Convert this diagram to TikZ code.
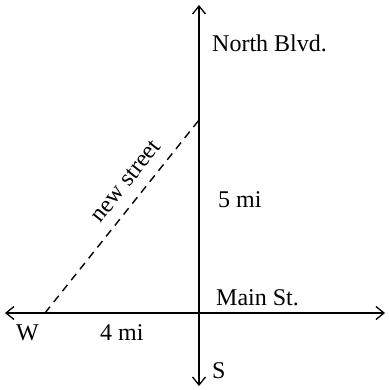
\documentclass[tikz,border=0pt]{standalone}
\usepackage{fontspec}
\setmainfont{Liberation Serif}
\usetikzlibrary{arrows.meta}
\begin{document}
\begin{tikzpicture}[x=1pt,y=-1pt,
  axis/.style={line width=1.7pt,-{Straight Barb[length=8pt,width=13pt,line width=1.3pt]}},
  lbl/.style={font=\fontsize{24}{28}\selectfont,inner sep=0pt,anchor=base west},
  newst/.style={dashed,line width=1.4pt,dash pattern=on 8pt off 6pt}]
\useasboundingbox (0,0) rectangle (388,390);
\coordinate (O) at (199,313);
\coordinate (top) at (199,5);
\coordinate (bot) at (199,386);
\coordinate (left) at (5,313);
\coordinate (right) at (385,313);
\coordinate (A) at (45,313);
\coordinate (B) at (199,120);
\draw[axis] (O) -- (top);
\draw[axis] (O) -- (bot);
\draw[axis] (O) -- (left);
\draw[axis] (O) -- (right);
\draw[newst] (A) -- (B);
\node[lbl] (north) at (212,52) {North Blvd.};
\node[lbl] (five) at (218,207) {5 mi};
\node[lbl] (main) at (216,305) {Main St.};
\node[lbl] (four) at (100,340) {4 mi};
\node[lbl] (w) at (16,340) {W};
\node[lbl] (s) at (212,378) {S};
\node[font=\fontsize{24}{28}\selectfont,inner sep=0pt,rotate=51.4] (ns) at (126,181) {new street};
\end{tikzpicture}
\end{document}
